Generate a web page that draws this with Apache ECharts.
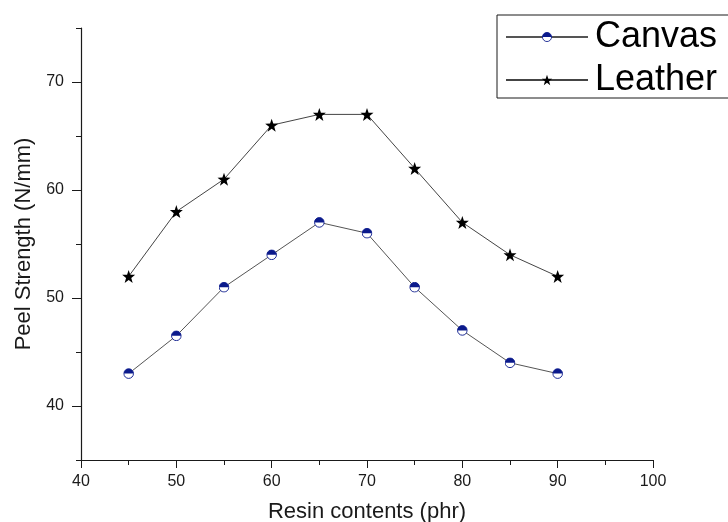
<!DOCTYPE html>
<html>
<head>
<meta charset="utf-8">
<script src="https://cdn.jsdelivr.net/npm/echarts@6/dist/echarts.min.js"></script>
<style>
  html, body { margin: 0; padding: 0; background: #fff; }
  #chart { width: 728px; height: 522px; }
</style>
</head>
<body>
<div id="chart"></div>
<script>
// Resin content (phr) and peel strength (N/mm) for the two substrates
const resinContents = [45, 50, 55, 60, 65, 70, 75, 80, 85, 90];
const canvasStrength = [43, 46.5, 51, 54, 57, 56, 51, 47, 44, 43];
const leatherStrength = [52, 58, 61, 66, 67, 67, 62, 57, 54, 52];

// Axis tick values
const yMajorTicks = [40, 50, 60, 70];
const yMinorTicks = [35, 45, 55, 65, 75];

const FONT = '"Liberation Sans", Arial, sans-serif';

// Half-filled circle marker: navy upper half, white lower half
const halfDiskSvg =
  '<svg xmlns="http://www.w3.org/2000/svg" width="24" height="24" viewBox="0 0 24 24">' +
  '<circle cx="12" cy="12" r="10.5" fill="#ffffff" stroke="#0b1a8c" stroke-width="2"/>' +
  '<path d="M1.5 12 A10.5 10.5 0 0 1 22.5 12 Z" fill="#0b1a8c"/>' +
  '</svg>';
const halfDiskSymbol = 'image://data:image/svg+xml;charset=utf-8,' + encodeURIComponent(halfDiskSvg);

const pairs = (ys) => resinContents.map((x, i) => [x, ys[i]]);

const chart = echarts.init(document.getElementById('chart'), null, { renderer: 'canvas' });

const axisLine = { show: true, lineStyle: { color: '#1a1a1a', width: 1.2 } };

chart.setOption({
  animation: false,
  backgroundColor: '#ffffff',
  textStyle: { fontFamily: FONT },
  grid: { left: 81, top: 28, right: 75, bottom: 62, containLabel: false, outerBoundsMode: 'none' },
  legend: {
    orient: 'vertical',
    left: 497,
    top: 15,
    padding: [4, 40, 0, 8],
    itemGap: 7,
    itemWidth: 82,
    itemHeight: 13,
    borderColor: '#1a1a1a',
    borderWidth: 1,
    textStyle: { fontSize: 36, color: '#000', fontFamily: FONT, padding: [0, 0, 0, 2] },
    data: ['Canvas', 'Leather']
  },
  xAxis: {
    type: 'value',
    min: 40,
    max: 100,
    interval: 10,
    name: 'Resin contents (phr)',
    nameLocation: 'middle',
    nameGap: 41,
    nameTextStyle: { fontSize: 22, color: '#1a1a1a', fontFamily: FONT },
    axisLine: axisLine,
    axisTick: { show: true, inside: false, length: 8, lineStyle: { color: '#1a1a1a' } },
    minorTick: { show: true, splitNumber: 2, length: 5, lineStyle: { color: '#1a1a1a' } },
    axisLabel: { fontSize: 16, color: '#1a1a1a', margin: 14, fontFamily: FONT },
    splitLine: { show: false }
  },
  yAxis: [
    {
      type: 'value',
      min: 35,
      max: 75,
      name: 'Peel Strength (N/mm)',
      nameLocation: 'middle',
      nameGap: 44,
      nameTextStyle: { fontSize: 22, color: '#1a1a1a', fontFamily: FONT },
      axisLine: axisLine,
      axisTick: { show: true, inside: false, length: 9, customValues: yMajorTicks, lineStyle: { color: '#1a1a1a' } },
      axisLabel: { fontSize: 16, color: '#1a1a1a', margin: 17, customValues: yMajorTicks, fontFamily: FONT },
      splitLine: { show: false }
    },
    {
      type: 'value',
      min: 35,
      max: 75,
      position: 'left',
      axisLine: { show: false },
      axisTick: { show: true, inside: false, length: 5, customValues: yMinorTicks, lineStyle: { color: '#1a1a1a' } },
      axisLabel: { show: false },
      splitLine: { show: false }
    }
  ],
  series: [
    {
      name: 'Canvas',
      type: 'line',
      data: pairs(canvasStrength),
      symbol: halfDiskSymbol,
      symbolSize: 11,
      showAllSymbol: true,
      lineStyle: { color: '#555', width: 1 },
      itemStyle: { color: '#555' },
      z: 3
    },
    {
      name: 'Leather',
      type: 'line',
      data: pairs(leatherStrength),
      symbol: 'path://M0,-10 L2.35,-3.24 L9.51,-3.09 L3.8,1.24 L5.88,8.09 L0,4 L-5.88,8.09 L-3.8,1.24 L-9.51,-3.09 L-2.35,-3.24 Z',
      symbolSize: 13,
      showAllSymbol: true,
      lineStyle: { color: '#444', width: 1 },
      itemStyle: { color: '#000', borderWidth: 0 },
      z: 3
    }
  ]
});
</script>
</body>
</html>
